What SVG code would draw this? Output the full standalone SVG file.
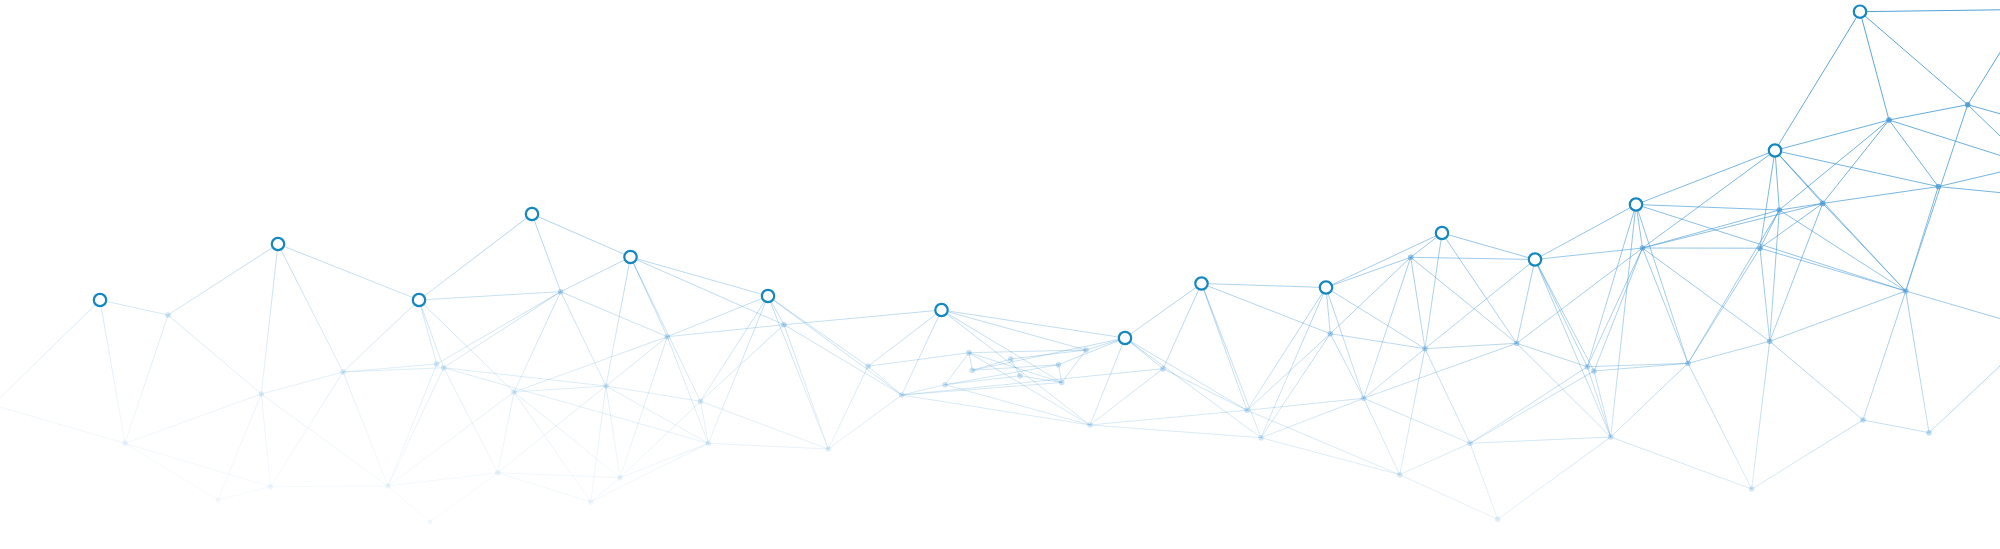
<svg xmlns="http://www.w3.org/2000/svg" width="2000" height="549" viewBox="0 0 2000 549">
<defs>
<linearGradient id="lg" gradientUnits="userSpaceOnUse" x1="1000" y1="-100" x2="928.7" y2="612.9">
<stop offset="0" stop-color="#3a93d2" stop-opacity="0.9"/>
<stop offset="0.278" stop-color="#3a93d2" stop-opacity="0.68"/>
<stop offset="0.417" stop-color="#3a93d2" stop-opacity="0.5"/>
<stop offset="0.583" stop-color="#3a93d2" stop-opacity="0.32"/>
<stop offset="0.694" stop-color="#3a93d2" stop-opacity="0.2"/>
<stop offset="0.833" stop-color="#3a93d2" stop-opacity="0.08"/>
<stop offset="1" stop-color="#3a93d2" stop-opacity="0.02"/>
</linearGradient>
<linearGradient id="dg" gradientUnits="userSpaceOnUse" x1="1000" y1="-100" x2="928.7" y2="612.9">
<stop offset="0" stop-color="#4b9bd6" stop-opacity="1"/>
<stop offset="0.278" stop-color="#4b9bd6" stop-opacity="0.78"/>
<stop offset="0.417" stop-color="#4b9bd6" stop-opacity="0.58"/>
<stop offset="0.583" stop-color="#4b9bd6" stop-opacity="0.38"/>
<stop offset="0.694" stop-color="#4b9bd6" stop-opacity="0.25"/>
<stop offset="0.833" stop-color="#4b9bd6" stop-opacity="0.12"/>
<stop offset="1" stop-color="#4b9bd6" stop-opacity="0.04"/>
</linearGradient>
</defs>
<style>
.e{stroke:url(#lg);stroke-width:1;fill:none}
.d{fill:url(#dg)}
.r{fill:#fff;stroke:#1487bf;stroke-width:2.2}
</style>
<rect width="2000" height="549" fill="#fff"/>
<g id="connectors">
<line class="e" x1="100" y1="300" x2="-7" y2="405"/>
<line class="e" x1="100" y1="300" x2="168" y2="315"/>
<line class="e" x1="100" y1="300" x2="125" y2="443.3"/>
<line class="e" x1="-7" y1="405" x2="125" y2="443.3"/>
<line class="e" x1="168" y1="315" x2="278" y2="244"/>
<line class="e" x1="168" y1="315" x2="125" y2="443.3"/>
<line class="e" x1="168" y1="315" x2="261.3" y2="394"/>
<line class="e" x1="278" y1="244" x2="419" y2="300"/>
<line class="e" x1="278" y1="244" x2="261.3" y2="394"/>
<line class="e" x1="278" y1="244" x2="343" y2="372"/>
<line class="e" x1="419" y1="300" x2="343" y2="372"/>
<line class="e" x1="419" y1="300" x2="436.7" y2="364"/>
<line class="e" x1="419" y1="300" x2="443.7" y2="367.7"/>
<line class="e" x1="419" y1="300" x2="560.7" y2="291.7"/>
<line class="e" x1="419" y1="300" x2="514" y2="392"/>
<line class="e" x1="419" y1="300" x2="532" y2="214"/>
<line class="e" x1="532" y1="214" x2="630.5" y2="257"/>
<line class="e" x1="532" y1="214" x2="560.7" y2="291.7"/>
<line class="e" x1="343" y1="372" x2="436.7" y2="364"/>
<line class="e" x1="343" y1="372" x2="443.7" y2="367.7"/>
<line class="e" x1="343" y1="372" x2="261.3" y2="394"/>
<line class="e" x1="343" y1="372" x2="388" y2="486"/>
<line class="e" x1="343" y1="372" x2="270.5" y2="486.7"/>
<line class="e" x1="261.3" y1="394" x2="125" y2="443.3"/>
<line class="e" x1="261.3" y1="394" x2="270.5" y2="486.7"/>
<line class="e" x1="261.3" y1="394" x2="388" y2="486"/>
<line class="e" x1="261.3" y1="394" x2="218" y2="500"/>
<line class="e" x1="125" y1="443.3" x2="270.5" y2="486.7"/>
<line class="e" x1="125" y1="443.3" x2="218" y2="500"/>
<line class="e" x1="270.5" y1="486.7" x2="388" y2="486"/>
<line class="e" x1="270.5" y1="486.7" x2="218" y2="500"/>
<line class="e" x1="436.7" y1="364" x2="560.7" y2="291.7"/>
<line class="e" x1="443.7" y1="367.7" x2="560.7" y2="291.7"/>
<line class="e" x1="436.7" y1="364" x2="388" y2="486"/>
<line class="e" x1="443.7" y1="367.7" x2="388" y2="486"/>
<line class="e" x1="443.7" y1="367.7" x2="497.7" y2="472.7"/>
<line class="e" x1="443.7" y1="367.7" x2="606" y2="386"/>
<line class="e" x1="443.7" y1="367.7" x2="708.3" y2="443.3"/>
<line class="e" x1="388" y1="486" x2="497.7" y2="472.7"/>
<line class="e" x1="388" y1="486" x2="430" y2="522"/>
<line class="e" x1="497.7" y1="472.7" x2="430" y2="522"/>
<line class="e" x1="514" y1="392" x2="388" y2="486"/>
<line class="e" x1="514" y1="392" x2="497.7" y2="472.7"/>
<line class="e" x1="514" y1="392" x2="620" y2="477.7"/>
<line class="e" x1="514" y1="392" x2="590.7" y2="502"/>
<line class="e" x1="514" y1="392" x2="606" y2="386"/>
<line class="e" x1="514" y1="392" x2="560.7" y2="291.7"/>
<line class="e" x1="514" y1="392" x2="667.3" y2="336.7"/>
<line class="e" x1="606" y1="386" x2="560.7" y2="291.7"/>
<line class="e" x1="606" y1="386" x2="667.3" y2="336.7"/>
<line class="e" x1="606" y1="386" x2="700.5" y2="401.3"/>
<line class="e" x1="606" y1="386" x2="620" y2="477.7"/>
<line class="e" x1="606" y1="386" x2="590.7" y2="502"/>
<line class="e" x1="606" y1="386" x2="708.3" y2="443.3"/>
<line class="e" x1="606" y1="386" x2="497.7" y2="472.7"/>
<line class="e" x1="606" y1="386" x2="630.5" y2="257"/>
<line class="e" x1="560.7" y1="291.7" x2="630.5" y2="257"/>
<line class="e" x1="560.7" y1="291.7" x2="667.3" y2="336.7"/>
<line class="e" x1="667.3" y1="336.7" x2="630.5" y2="257"/>
<line class="e" x1="700.5" y1="401.3" x2="630.5" y2="257"/>
<line class="e" x1="667.3" y1="336.7" x2="784" y2="324.7"/>
<line class="e" x1="667.3" y1="336.7" x2="768" y2="296"/>
<line class="e" x1="667.3" y1="336.7" x2="708.3" y2="443.3"/>
<line class="e" x1="667.3" y1="336.7" x2="620" y2="477.7"/>
<line class="e" x1="630.5" y1="257" x2="768" y2="296"/>
<line class="e" x1="630.5" y1="257" x2="784" y2="324.7"/>
<line class="e" x1="768" y1="296" x2="784" y2="324.7"/>
<line class="e" x1="768" y1="296" x2="700.5" y2="401.3"/>
<line class="e" x1="768" y1="296" x2="708.3" y2="443.3"/>
<line class="e" x1="768" y1="296" x2="868" y2="366.3"/>
<line class="e" x1="768" y1="296" x2="901.7" y2="395"/>
<line class="e" x1="768" y1="296" x2="828.3" y2="449"/>
<line class="e" x1="784" y1="324.7" x2="941.5" y2="310"/>
<line class="e" x1="784" y1="324.7" x2="700.5" y2="401.3"/>
<line class="e" x1="784" y1="324.7" x2="828.3" y2="449"/>
<line class="e" x1="784" y1="324.7" x2="901.7" y2="395"/>
<line class="e" x1="700.5" y1="401.3" x2="708.3" y2="443.3"/>
<line class="e" x1="700.5" y1="401.3" x2="828.3" y2="449"/>
<line class="e" x1="700.5" y1="401.3" x2="620" y2="477.7"/>
<line class="e" x1="708.3" y1="443.3" x2="828.3" y2="449"/>
<line class="e" x1="708.3" y1="443.3" x2="620" y2="477.7"/>
<line class="e" x1="708.3" y1="443.3" x2="590.7" y2="502"/>
<line class="e" x1="620" y1="477.7" x2="590.7" y2="502"/>
<line class="e" x1="497.7" y1="472.7" x2="620" y2="477.7"/>
<line class="e" x1="497.7" y1="472.7" x2="590.7" y2="502"/>
<line class="e" x1="868" y1="366.3" x2="901.7" y2="395"/>
<line class="e" x1="868" y1="366.3" x2="828.3" y2="449"/>
<line class="e" x1="868" y1="366.3" x2="941.5" y2="310"/>
<line class="e" x1="868" y1="366.3" x2="969" y2="352.7"/>
<line class="e" x1="901.7" y1="395" x2="828.3" y2="449"/>
<line class="e" x1="901.7" y1="395" x2="945" y2="384.7"/>
<line class="e" x1="901.7" y1="395" x2="941.5" y2="310"/>
<line class="e" x1="901.7" y1="395" x2="1163" y2="368.7"/>
<line class="e" x1="901.7" y1="395" x2="1090" y2="425"/>
<line class="e" x1="901.7" y1="395" x2="1061.7" y2="382.5"/>
<line class="e" x1="945" y1="384.7" x2="969" y2="352.7"/>
<line class="e" x1="945" y1="384.7" x2="1090" y2="425"/>
<line class="e" x1="945" y1="384.7" x2="1058.5" y2="364.7"/>
<line class="e" x1="945" y1="384.7" x2="1020" y2="375.8"/>
<line class="e" x1="969" y1="352.7" x2="972.3" y2="370.3"/>
<line class="e" x1="969" y1="352.7" x2="1086" y2="350"/>
<line class="e" x1="969" y1="352.7" x2="1061.7" y2="382.5"/>
<line class="e" x1="969" y1="352.7" x2="1090" y2="425"/>
<line class="e" x1="972.3" y1="370.3" x2="1058.5" y2="364.7"/>
<line class="e" x1="972.3" y1="370.3" x2="1010.8" y2="359"/>
<line class="e" x1="1010.8" y1="359" x2="1086" y2="350"/>
<line class="e" x1="1010.8" y1="359" x2="1020" y2="375.8"/>
<line class="e" x1="1020" y1="375.8" x2="1061.7" y2="382.5"/>
<line class="e" x1="1058.5" y1="364.7" x2="1061.7" y2="382.5"/>
<line class="e" x1="1086" y1="350" x2="1061.7" y2="382.5"/>
<line class="e" x1="941.5" y1="310" x2="1125" y2="338"/>
<line class="e" x1="941.5" y1="310" x2="1086" y2="350"/>
<line class="e" x1="941.5" y1="310" x2="1061.7" y2="382.5"/>
<line class="e" x1="941.5" y1="310" x2="1090" y2="425"/>
<line class="e" x1="1125" y1="338" x2="1086" y2="350"/>
<line class="e" x1="1125" y1="338" x2="1058.5" y2="364.7"/>
<line class="e" x1="1125" y1="338" x2="972.3" y2="370.3"/>
<line class="e" x1="1125" y1="338" x2="1201.5" y2="283.5"/>
<line class="e" x1="1125" y1="338" x2="1090" y2="425"/>
<line class="e" x1="1125" y1="338" x2="1163" y2="368.7"/>
<line class="e" x1="1125" y1="338" x2="1247" y2="410.3"/>
<line class="e" x1="1125" y1="338" x2="1261" y2="437.7"/>
<line class="e" x1="1163" y1="368.7" x2="1090" y2="425"/>
<line class="e" x1="1163" y1="368.7" x2="1201.5" y2="283.5"/>
<line class="e" x1="1163" y1="368.7" x2="1247" y2="410.3"/>
<line class="e" x1="1090" y1="425" x2="1247" y2="410.3"/>
<line class="e" x1="1090" y1="425" x2="1261" y2="437.7"/>
<line class="e" x1="1201.5" y1="283.5" x2="1326" y2="287.5"/>
<line class="e" x1="1201.5" y1="283.5" x2="1247" y2="410.3"/>
<line class="e" x1="1201.5" y1="283.5" x2="1261" y2="437.7"/>
<line class="e" x1="1201.5" y1="283.5" x2="1330.3" y2="333.7"/>
<line class="e" x1="1326" y1="287.5" x2="1442" y2="233"/>
<line class="e" x1="1326" y1="287.5" x2="1410.7" y2="257.3"/>
<line class="e" x1="1326" y1="287.5" x2="1330.3" y2="333.7"/>
<line class="e" x1="1326" y1="287.5" x2="1425" y2="348.7"/>
<line class="e" x1="1326" y1="287.5" x2="1363.7" y2="398.3"/>
<line class="e" x1="1326" y1="287.5" x2="1247" y2="410.3"/>
<line class="e" x1="1326" y1="287.5" x2="1261" y2="437.7"/>
<line class="e" x1="1410.7" y1="257.3" x2="1442" y2="233"/>
<line class="e" x1="1410.7" y1="257.3" x2="1330.3" y2="333.7"/>
<line class="e" x1="1410.7" y1="257.3" x2="1425" y2="348.7"/>
<line class="e" x1="1410.7" y1="257.3" x2="1363.7" y2="398.3"/>
<line class="e" x1="1410.7" y1="257.3" x2="1535" y2="259.5"/>
<line class="e" x1="1410.7" y1="257.3" x2="1516.7" y2="343.3"/>
<line class="e" x1="1330.3" y1="333.7" x2="1363.7" y2="398.3"/>
<line class="e" x1="1330.3" y1="333.7" x2="1425" y2="348.7"/>
<line class="e" x1="1330.3" y1="333.7" x2="1261" y2="437.7"/>
<line class="e" x1="1330.3" y1="333.7" x2="1247" y2="410.3"/>
<line class="e" x1="1425" y1="348.7" x2="1363.7" y2="398.3"/>
<line class="e" x1="1425" y1="348.7" x2="1399.7" y2="474.7"/>
<line class="e" x1="1425" y1="348.7" x2="1470" y2="443.3"/>
<line class="e" x1="1425" y1="348.7" x2="1516.7" y2="343.3"/>
<line class="e" x1="1425" y1="348.7" x2="1442" y2="233"/>
<line class="e" x1="1425" y1="348.7" x2="1535" y2="259.5"/>
<line class="e" x1="1363.7" y1="398.3" x2="1247" y2="410.3"/>
<line class="e" x1="1363.7" y1="398.3" x2="1261" y2="437.7"/>
<line class="e" x1="1363.7" y1="398.3" x2="1399.7" y2="474.7"/>
<line class="e" x1="1363.7" y1="398.3" x2="1470" y2="443.3"/>
<line class="e" x1="1363.7" y1="398.3" x2="1516.7" y2="343.3"/>
<line class="e" x1="1247" y1="410.3" x2="1399.7" y2="474.7"/>
<line class="e" x1="1261" y1="437.7" x2="1399.7" y2="474.7"/>
<line class="e" x1="1470" y1="443.3" x2="1399.7" y2="474.7"/>
<line class="e" x1="1470" y1="443.3" x2="1497.7" y2="519.3"/>
<line class="e" x1="1399.7" y1="474.7" x2="1497.7" y2="519.3"/>
<line class="e" x1="1470" y1="443.3" x2="1587.3" y2="366.7"/>
<line class="e" x1="1470" y1="443.3" x2="1594" y2="371"/>
<line class="e" x1="1470" y1="443.3" x2="1610.7" y2="437"/>
<line class="e" x1="1497.7" y1="519.3" x2="1610.7" y2="437"/>
<line class="e" x1="1442" y1="233" x2="1535" y2="259.5"/>
<line class="e" x1="1442" y1="233" x2="1516.7" y2="343.3"/>
<line class="e" x1="1535" y1="259.5" x2="1636" y2="204.5"/>
<line class="e" x1="1535" y1="259.5" x2="1642.5" y2="248"/>
<line class="e" x1="1535" y1="259.5" x2="1516.7" y2="343.3"/>
<line class="e" x1="1535" y1="259.5" x2="1587.3" y2="366.7"/>
<line class="e" x1="1535" y1="259.5" x2="1594" y2="371"/>
<line class="e" x1="1535" y1="259.5" x2="1610.7" y2="437"/>
<line class="e" x1="1636" y1="204.5" x2="1775" y2="150.5"/>
<line class="e" x1="1636" y1="204.5" x2="1779.3" y2="210"/>
<line class="e" x1="1636" y1="204.5" x2="1642.5" y2="248"/>
<line class="e" x1="1636" y1="204.5" x2="1905.7" y2="291"/>
<line class="e" x1="1636" y1="204.5" x2="1587.3" y2="366.7"/>
<line class="e" x1="1636" y1="204.5" x2="1610.7" y2="437"/>
<line class="e" x1="1636" y1="204.5" x2="1688" y2="363.3"/>
<line class="e" x1="1642.5" y1="248" x2="1516.7" y2="343.3"/>
<line class="e" x1="1642.5" y1="248" x2="1587.3" y2="366.7"/>
<line class="e" x1="1642.5" y1="248" x2="1594" y2="371"/>
<line class="e" x1="1642.5" y1="248" x2="1688" y2="363.3"/>
<line class="e" x1="1642.5" y1="248" x2="1769.7" y2="341.3"/>
<line class="e" x1="1642.5" y1="248" x2="1760" y2="248.2"/>
<line class="e" x1="1642.5" y1="248" x2="1779.3" y2="210"/>
<line class="e" x1="1642.5" y1="248" x2="1822.7" y2="203.4"/>
<line class="e" x1="1516.7" y1="343.3" x2="1587.3" y2="366.7"/>
<line class="e" x1="1516.7" y1="343.3" x2="1610.7" y2="437"/>
<line class="e" x1="1587.3" y1="366.7" x2="1688" y2="363.3"/>
<line class="e" x1="1587.3" y1="366.7" x2="1610.7" y2="437"/>
<line class="e" x1="1594" y1="371" x2="1610.7" y2="437"/>
<line class="e" x1="1594" y1="371" x2="1688" y2="363.3"/>
<line class="e" x1="1688" y1="363.3" x2="1769.7" y2="341.3"/>
<line class="e" x1="1688" y1="363.3" x2="1610.7" y2="437"/>
<line class="e" x1="1688" y1="363.3" x2="1751.7" y2="489"/>
<line class="e" x1="1688" y1="363.3" x2="1779.3" y2="210"/>
<line class="e" x1="1760" y1="248.2" x2="1688" y2="363.3"/>
<line class="e" x1="1760" y1="248.2" x2="1769.7" y2="341.3"/>
<line class="e" x1="1760" y1="248.2" x2="1905.7" y2="291"/>
<line class="e" x1="1760" y1="248.2" x2="1779.3" y2="210"/>
<line class="e" x1="1760" y1="248.2" x2="1822.7" y2="203.4"/>
<line class="e" x1="1769.7" y1="341.3" x2="1905.7" y2="291"/>
<line class="e" x1="1769.7" y1="341.3" x2="1751.7" y2="489"/>
<line class="e" x1="1769.7" y1="341.3" x2="1863" y2="420"/>
<line class="e" x1="1769.7" y1="341.3" x2="1822.7" y2="203.4"/>
<line class="e" x1="1769.7" y1="341.3" x2="1779.3" y2="210"/>
<line class="e" x1="1905.7" y1="291" x2="1863" y2="420"/>
<line class="e" x1="1905.7" y1="291" x2="1929" y2="432.7"/>
<line class="e" x1="1905.7" y1="291" x2="1938.3" y2="186.6"/>
<line class="e" x1="1905.7" y1="291" x2="1779.3" y2="210"/>
<line class="e" x1="1905.7" y1="291" x2="1822.7" y2="203.4"/>
<line class="e" x1="1905.7" y1="291" x2="1775" y2="150.5"/>
<line class="e" x1="1905.7" y1="291" x2="1967.7" y2="104.7"/>
<line class="e" x1="1610.7" y1="437" x2="1751.7" y2="489"/>
<line class="e" x1="1751.7" y1="489" x2="1863" y2="420"/>
<line class="e" x1="1863" y1="420" x2="1929" y2="432.7"/>
<line class="e" x1="1775" y1="150.5" x2="1860" y2="11.7"/>
<line class="e" x1="1775" y1="150.5" x2="1889" y2="120"/>
<line class="e" x1="1775" y1="150.5" x2="1938.3" y2="186.6"/>
<line class="e" x1="1775" y1="150.5" x2="1779.3" y2="210"/>
<line class="e" x1="1775" y1="150.5" x2="1822.7" y2="203.4"/>
<line class="e" x1="1775" y1="150.5" x2="1642.5" y2="248"/>
<line class="e" x1="1775" y1="150.5" x2="1760" y2="248.2"/>
<line class="e" x1="1860" y1="11.7" x2="1889" y2="120"/>
<line class="e" x1="1860" y1="11.7" x2="1967.7" y2="104.7"/>
<line class="e" x1="1967.7" y1="104.7" x2="1889" y2="120"/>
<line class="e" x1="1889" y1="120" x2="1938.3" y2="186.6"/>
<line class="e" x1="1889" y1="120" x2="1822.7" y2="203.4"/>
<line class="e" x1="1889" y1="120" x2="1779.3" y2="210"/>
<line class="e" x1="1938.3" y1="186.6" x2="1822.7" y2="203.4"/>
<line class="e" x1="1822.7" y1="203.4" x2="1779.3" y2="210"/>
<line class="e" x1="1860" y1="11.7" x2="2060" y2="9"/>
<line class="e" x1="1967.7" y1="104.7" x2="2030" y2="4"/>
<line class="e" x1="1967.7" y1="104.7" x2="2030" y2="122.2"/>
<line class="e" x1="1967.7" y1="104.7" x2="2030" y2="165"/>
<line class="e" x1="1889" y1="120" x2="2030" y2="165"/>
<line class="e" x1="1938.3" y1="186.6" x2="2030" y2="165"/>
<line class="e" x1="1938.3" y1="186.6" x2="2030" y2="195.5"/>
<line class="e" x1="1905.7" y1="291" x2="2030" y2="327.4"/>
<line class="e" x1="1929" y1="432.7" x2="2030" y2="337.7"/>
</g>
<g id="dots">
<g id="n-b"><circle class="d" cx="168" cy="315" r="2.8"/></g>
<g id="n-e"><circle class="d" cx="343" cy="372" r="2.8"/></g>
<g id="n-f"><circle class="d" cx="261.3" cy="394" r="2.8"/></g>
<g id="n-g"><circle class="d" cx="125" cy="443.3" r="2.8"/></g>
<g id="n-h"><circle class="d" cx="270.5" cy="486.7" r="2.8"/></g>
<g id="n-i"><circle class="d" cx="436.7" cy="364" r="2.8"/></g>
<g id="n-j"><circle class="d" cx="443.7" cy="367.7" r="2.8"/></g>
<g id="n-k"><circle class="d" cx="388" cy="486" r="2.8"/></g>
<g id="n-l"><circle class="d" cx="497.7" cy="472.7" r="2.8"/></g>
<g id="n-bt1"><circle class="d" cx="218" cy="500" r="2.4"/></g>
<g id="n-bt2"><circle class="d" cx="430" cy="522" r="2.4"/></g>
<g id="n-m"><circle class="d" cx="560.7" cy="291.7" r="2.8"/></g>
<g id="n-n"><circle class="d" cx="784" cy="324.7" r="2.8"/></g>
<g id="n-o"><circle class="d" cx="667.3" cy="336.7" r="2.8"/></g>
<g id="n-p"><circle class="d" cx="868" cy="366.3" r="2.8"/></g>
<g id="n-q"><circle class="d" cx="514" cy="392" r="2.8"/></g>
<g id="n-r"><circle class="d" cx="606" cy="386" r="2.8"/></g>
<g id="n-s"><circle class="d" cx="700.5" cy="401.3" r="2.8"/></g>
<g id="n-t"><circle class="d" cx="901.7" cy="395" r="2.8"/></g>
<g id="n-u"><circle class="d" cx="969" cy="352.7" r="2.8"/></g>
<g id="n-v"><circle class="d" cx="972.3" cy="370.3" r="2.8"/></g>
<g id="n-w"><circle class="d" cx="945" cy="384.7" r="2.8"/></g>
<g id="n-x"><circle class="d" cx="708.3" cy="443.3" r="2.8"/></g>
<g id="n-y"><circle class="d" cx="828.3" cy="449" r="2.8"/></g>
<g id="n-z"><circle class="d" cx="620" cy="477.7" r="2.8"/></g>
<g id="n-aa"><circle class="d" cx="590.7" cy="502" r="2.8"/></g>
<g id="n-ab"><circle class="d" cx="1410.7" cy="257.3" r="2.8"/></g>
<g id="n-ac"><circle class="d" cx="1086" cy="350" r="2.8"/></g>
<g id="n-ad"><circle class="d" cx="1010.8" cy="359" r="2.8"/></g>
<g id="n-ae"><circle class="d" cx="1058.5" cy="364.7" r="2.8"/></g>
<g id="n-af"><circle class="d" cx="1020" cy="375.8" r="2.8"/></g>
<g id="n-ag"><circle class="d" cx="1061.7" cy="382.5" r="2.8"/></g>
<g id="n-ah"><circle class="d" cx="1163" cy="368.7" r="2.8"/></g>
<g id="n-ai"><circle class="d" cx="1090" cy="425" r="2.8"/></g>
<g id="n-aj"><circle class="d" cx="1330.3" cy="333.7" r="2.8"/></g>
<g id="n-ak"><circle class="d" cx="1425" cy="348.7" r="2.8"/></g>
<g id="n-al"><circle class="d" cx="1363.7" cy="398.3" r="2.8"/></g>
<g id="n-am"><circle class="d" cx="1247" cy="410.3" r="2.8"/></g>
<g id="n-an"><circle class="d" cx="1261" cy="437.7" r="2.8"/></g>
<g id="n-ao"><circle class="d" cx="1470" cy="443.3" r="2.8"/></g>
<g id="n-ap"><circle class="d" cx="1399.7" cy="474.7" r="2.8"/></g>
<g id="n-aq"><circle class="d" cx="1497.7" cy="519.3" r="2.8"/></g>
<g id="n-ar"><circle class="d" cx="1642.5" cy="248" r="2.8"/></g>
<g id="n-as"><circle class="d" cx="1760" cy="248.2" r="2.8"/></g>
<g id="n-at"><circle class="d" cx="1516.7" cy="343.3" r="2.8"/></g>
<g id="n-au"><circle class="d" cx="1587.3" cy="366.7" r="2.8"/></g>
<g id="n-av"><circle class="d" cx="1594" cy="371" r="2.8"/></g>
<g id="n-aw"><circle class="d" cx="1688" cy="363.3" r="2.8"/></g>
<g id="n-ax"><circle class="d" cx="1769.7" cy="341.3" r="2.8"/></g>
<g id="n-ay"><circle class="d" cx="1905.7" cy="291" r="2.8"/></g>
<g id="n-az"><circle class="d" cx="1610.7" cy="437" r="2.8"/></g>
<g id="n-ba"><circle class="d" cx="1751.7" cy="489" r="2.8"/></g>
<g id="n-bb"><circle class="d" cx="1863" cy="420" r="2.8"/></g>
<g id="n-bc"><circle class="d" cx="1929" cy="432.7" r="2.8"/></g>
<g id="n-bd"><circle class="d" cx="1967.7" cy="104.7" r="2.8"/></g>
<g id="n-be"><circle class="d" cx="1889" cy="120" r="2.8"/></g>
<g id="n-bf"><circle class="d" cx="1938.3" cy="186.6" r="2.8"/></g>
<g id="n-bg"><circle class="d" cx="1822.7" cy="203.4" r="2.8"/></g>
<g id="n-bh"><circle class="d" cx="1779.3" cy="210" r="2.8"/></g>
</g>
<g id="rings">
<g id="n-r1"><circle class="r" cx="100" cy="300" r="6.2"/></g>
<g id="n-r2"><circle class="r" cx="278" cy="244" r="6.2"/></g>
<g id="n-r3"><circle class="r" cx="419" cy="300" r="6.2"/></g>
<g id="n-r4"><circle class="r" cx="532" cy="214" r="6.2"/></g>
<g id="n-r5"><circle class="r" cx="630.5" cy="257" r="6.2"/></g>
<g id="n-r6"><circle class="r" cx="768" cy="296" r="6.2"/></g>
<g id="n-r7"><circle class="r" cx="941.5" cy="310" r="6.2"/></g>
<g id="n-r8"><circle class="r" cx="1125" cy="338" r="6.2"/></g>
<g id="n-r9"><circle class="r" cx="1201.5" cy="283.5" r="6.2"/></g>
<g id="n-r10"><circle class="r" cx="1326" cy="287.5" r="6.2"/></g>
<g id="n-r11"><circle class="r" cx="1442" cy="233" r="6.2"/></g>
<g id="n-r12"><circle class="r" cx="1535" cy="259.5" r="6.2"/></g>
<g id="n-r13"><circle class="r" cx="1636" cy="204.5" r="6.2"/></g>
<g id="n-r14"><circle class="r" cx="1775" cy="150.5" r="6.2"/></g>
<g id="n-r15"><circle class="r" cx="1860" cy="11.7" r="6.2"/></g>
</g>
</svg>
